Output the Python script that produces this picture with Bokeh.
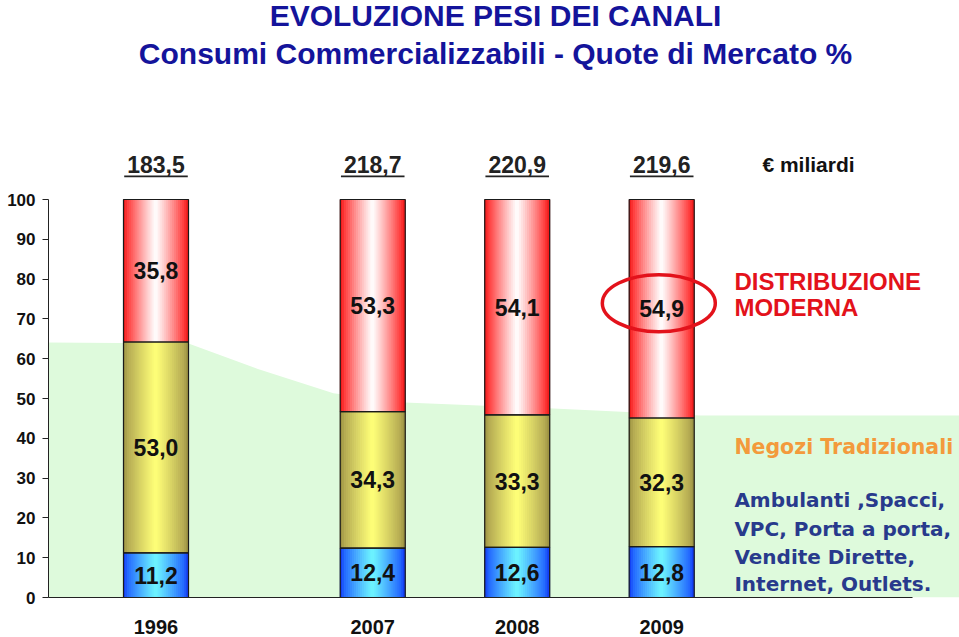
from bokeh.plotting import figure
from bokeh.models import ColumnDataSource, Range1d, FixedTicker, Label
from bokeh.embed import file_html
from bokeh.resources import INLINE
from bokeh.core.properties import value

# ---------------- data ----------------
years = ["1996", "2007", "2008", "2009"]
moderna = [35.8, 53.3, 54.1, 54.9]          # Distribuzione Moderna (top, red)
tradizionali = [53.0, 34.3, 33.3, 32.3]     # Negozi Tradizionali (middle, yellow)
altri = [11.2, 12.4, 12.6, 12.8]            # Ambulanti, Spacci, ... (bottom, blue)
totali = ["183,5", "218,7", "220,9", "219,6"]   # € miliardi
y_ticks = [0, 10, 20, 30, 40, 50, 60, 70, 80, 90, 100]
# light green background band (x in bar-slot units, top in %)
band_x = [-0.744, 0.225, 0.70, 1.228, 1.72, 2.75, 3.77, 5.561]
band_top = [64.1, 63.8, 57.5, 51.3, 49.0, 47.5, 45.7, 45.7]

# ---------------- layout helpers ----------------
FONT = "Liberation Sans"
W = 0.45
pos = [i + (0.5 if i > 0 else 0.0) for i in range(len(years))]

def fmt(v):
    return f"{v:.1f}".replace(".", ",")

p = figure(width=959, height=637, output_backend="svg", toolbar_location=None,
           x_range=Range1d(-0.744, 5.561), y_range=Range1d(0, 150.0),
           min_border_left=48, min_border_right=0, min_border_top=0,
           min_border_bottom=40)
p.outline_line_color = None
p.xgrid.visible = False
p.ygrid.visible = False
p.background_fill_color = "white"

# green band
p.varea(x=band_x, y1=[0] * len(band_x), y2=band_top, fill_color="#defadc")

# gradient bars
def mix(c1, c2, t):
    return "#%02x%02x%02x" % tuple(int(round(a + (b - a) * t)) for a, b in zip(c1, c2))

palettes = {
    "red": ((255, 255, 255), (255, 60, 60), (235, 20, 20)),
    "yel": ((255, 255, 120), (180, 170, 82), (150, 140, 62)),
    "blu": ((110, 245, 255), (35, 105, 255), (15, 50, 240)),
}

def grad(pal, t):
    c0, c1, c2 = palettes[pal]
    m = t ** 1.1
    if m < 0.85:
        return mix(c0, c1, m / 0.85)
    return mix(c1, c2, (m - 0.85) / 0.15)

N = 32
sx, sw, sb, stp, sc = [], [], [], [], []
for i in range(len(years)):
    b0 = 0.0
    b1 = altri[i]
    b2 = altri[i] + tradizionali[i]
    b3 = b2 + moderna[i]
    for (lo, hi, pal) in ((b0, b1, "blu"), (b1, b2, "yel"), (b2, b3, "red")):
        for k in range(N):
            u = -1 + (2 * k + 1) / N
            sx.append(pos[i] + u * W / 2)
            sw.append(W / N * 1.35)
            sb.append(lo)
            stp.append(hi)
            sc.append(grad(pal, abs(u)))
src = ColumnDataSource(dict(x=sx, w=sw, b=sb, t=stp, c=sc))
p.vbar(x="x", width="w", bottom="b", top="t", fill_color="c", line_color=None, source=src)

bot_top = altri
mid_top = [a + t for a, t in zip(altri, tradizionali)]
top_top = [m + d for m, d in zip(mid_top, moderna)]
for lo, hi in ((0, bot_top), (bot_top, mid_top), (mid_top, top_top)):
    p.vbar(x=pos, width=W, bottom=lo, top=hi, fill_color=None,
           line_color="#1a1a1a", line_width=1.2)

# segment labels
lab_kw = dict(text_font=value(FONT), text_font_style="bold", text_font_size="23px",
              text_align="center", text_baseline="middle", text_color="#111111")
p.text(x=pos, y=[a / 2 for a in altri], text=[fmt(v) for v in altri], **lab_kw)
p.text(x=pos, y=[a + t / 2 for a, t in zip(altri, tradizionali)],
       text=[fmt(v) for v in tradizionali], **lab_kw)
p.text(x=pos, y=[m + d / 2 for m, d in zip(mid_top, moderna)],
       text=[fmt(v) for v in moderna], **lab_kw)

# totals above bars (underlined)
p.text(x=pos, y=[108.7] * 4, text=totali, text_font=value(FONT), text_font_style="bold",
       text_font_size="23px", text_align="center", text_baseline="middle",
       text_color="#222222")
p.segment(x0=[x - 0.22 for x in pos], x1=[x + 0.22 for x in pos],
          y0=[105.8] * 4, y1=[105.8] * 4, line_color="#222222", line_width=1.6)

# ellipse highlighting 2009 moderna
p.ellipse(x=[pos[3] - 0.02], y=[mid_top[3] + moderna[3] / 2 + 1.4], width=113, height=57,
          width_units="screen", height_units="screen", fill_color=None,
          line_color="#e3121b", line_width=3.5)

# titles
p.add_layout(Label(x=2.35, y=146.3, text="EVOLUZIONE PESI DEI CANALI",
                   text_font=FONT, text_font_style="bold", text_font_size="30px",
                   text_color="#14149b", text_align="center", text_baseline="middle"))
p.add_layout(Label(x=2.35, y=136.7, text="Consumi Commercializzabili - Quote di Mercato %",
                   text_font=FONT, text_font_style="bold", text_font_size="30px",
                   text_color="#14149b", text_align="center", text_baseline="middle"))
p.add_layout(Label(x=4.516, y=108.7, text="€ miliardi", text_font=FONT,
                   text_font_style="bold", text_font_size="21px", text_color="#111111",
                   text_align="center", text_baseline="middle"))

# right side notes
XR = 4.003
for yy, txt in ((79.4, "DISTRIBUZIONE"), (72.9, "MODERNA")):
    p.add_layout(Label(x=XR, y=yy, text=txt, text_font=FONT, text_font_style="bold",
                       text_font_size="24px", text_color="#e3121b",
                       text_align="left", text_baseline="middle"))
p.add_layout(Label(x=XR, y=37.9, text="Negozi Tradizionali", text_font="DejaVu Sans",
                   text_font_style="bold", text_font_size="20.5px", text_color="#f39a3c",
                   text_align="left", text_baseline="middle"))
for yy, txt in ((24.4, "Ambulanti ,Spacci,"), (17.3, "VPC, Porta a porta,"),
                (10.3, "Vendite Dirette,"), (3.3, "Internet, Outlets.")):
    p.add_layout(Label(x=XR, y=yy, text=txt, text_font="DejaVu Sans",
                       text_font_style="bold", text_font_size="20px", text_color="#283a8c",
                       text_align="left", text_baseline="middle"))

# axes
ya = p.yaxis[0]
ya.ticker = FixedTicker(ticks=y_ticks)
ya.bounds = (0, 100)
ya.axis_line_color = "#222222"
ya.major_tick_line_color = "#222222"
ya.major_tick_out = 6
ya.major_tick_in = 0
ya.minor_tick_line_color = None
ya.major_label_text_font = FONT
ya.major_label_text_font_style = "bold"
ya.major_label_text_font_size = "17px"
ya.major_label_text_color = "#111111"
ya.major_label_standoff = 7

xa = p.xaxis[0]
xa.ticker = FixedTicker(ticks=pos)
xa.major_label_overrides = {x: y for x, y in zip(pos, years)}
xa.bounds = (-0.744, 5.235)
xa.axis_line_color = "#222222"
xa.major_tick_line_color = None
xa.minor_tick_line_color = None
xa.major_label_text_font = FONT
xa.major_label_text_font_style = "bold"
xa.major_label_text_font_size = "20px"
xa.major_label_text_color = "#111111"
xa.major_label_standoff = 16

open("out.html", "w").write(file_html(p, INLINE))
